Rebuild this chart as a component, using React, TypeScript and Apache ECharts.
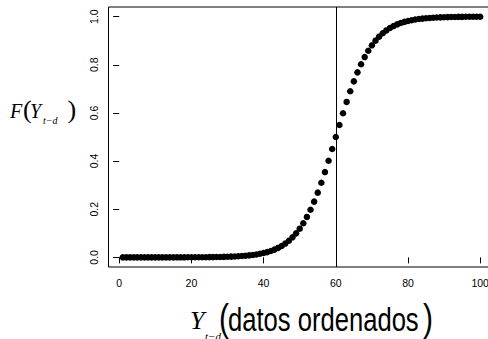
import React, { useEffect, useRef } from "react";
import * as echarts from "echarts";

const fValues = [
  0.0000, 0.0000, 0.0000, 0.0000, 0.0000, 0.0000, 0.0000, 0.0000, 0.0000, 0.0000,
  0.0001, 0.0001, 0.0001, 0.0001, 0.0001, 0.0002, 0.0002, 0.0002, 0.0003, 0.0003,
  0.0004, 0.0005, 0.0006, 0.0007, 0.0009, 0.0011, 0.0014, 0.0017, 0.0020, 0.0025,
  0.0030, 0.0037, 0.0045, 0.0055, 0.0067, 0.0082, 0.0100, 0.0121, 0.0148, 0.0180,
  0.0219, 0.0266, 0.0323, 0.0392, 0.0474, 0.0573, 0.0691, 0.0832, 0.0998, 0.1192,
  0.1419, 0.1680, 0.1978, 0.2315, 0.2689, 0.3100, 0.3543, 0.4013, 0.4502, 0.5000,
  0.5498, 0.5987, 0.6457, 0.6900, 0.7311, 0.7685, 0.8022, 0.8320, 0.8581, 0.8808,
  0.9002, 0.9168, 0.9309, 0.9427, 0.9526, 0.9608, 0.9677, 0.9734, 0.9781, 0.9820,
  0.9852, 0.9879, 0.9900, 0.9918, 0.9933, 0.9945, 0.9955, 0.9963, 0.9970, 0.9975,
  0.9980, 0.9983, 0.9986, 0.9989, 0.9991, 0.9993, 0.9994, 0.9995, 0.9996, 0.9997,
];
const xTicks = [0, 20, 40, 60, 80, 100];
const yTicks = [0, 0.2, 0.4, 0.6, 0.8, 1.0];
const thresholdX = [60];

const SANS = "'Liberation Sans', Arial, sans-serif";
const SERIF = "'Liberation Serif', 'Times New Roman', serif";

export default function App() {
  const ref = useRef<HTMLDivElement>(null);
  useEffect(() => {
    if (!ref.current) return;
    const chart = echarts.init(ref.current, undefined, { renderer: "svg" });
    const points = fValues.map((v, i) => [i + 1, v]);
    const txt = (
      text: string,
      x: number,
      y: number,
      font: string,
      align: string = "left",
      scaleY: number = 1
    ) => ({
      type: "text",
      x,
      y,
      scaleY,
      silent: true,
      style: {
        text,
        font,
        fill: "#000",
        align,
        textAlign: align,
        verticalAlign: "middle",
        textVerticalAlign: "middle",
      },
    });
    chart.setOption({
      animation: false,
      backgroundColor: "#fff",
      grid: {
        left: 108.5,
        top: 7,
        width: 386,
        height: 260,
        containLabel: false,
        outerBoundsMode: "none",
        show: true,
        borderColor: "#000",
        borderWidth: 1,
        backgroundColor: "transparent",
      },
      xAxis: {
        type: "value",
        min: -2.96,
        max: 103.96,
        axisLine: { show: false },
        splitLine: { show: false },
        axisTick: {
          show: true,
          length: 6,
          lineStyle: { color: "#000", width: 1 },
          customValues: xTicks,
        },
        axisLabel: {
          customValues: xTicks,
          margin: 10,
          fontFamily: SANS,
          fontSize: 10.5,
          color: "#000",
          formatter: (v: number) => String(v),
        },
      },
      yAxis: {
        type: "value",
        min: -0.04,
        max: 1.04,
        axisLine: { show: false },
        splitLine: { show: false },
        axisTick: {
          show: true,
          length: 6,
          lineStyle: { color: "#000", width: 1 },
          customValues: yTicks,
        },
        axisLabel: {
          customValues: yTicks,
          rotate: 90,
          margin: 9,
          fontFamily: SANS,
          fontSize: 10.5,
          color: "#000",
          formatter: (v: number) => v.toFixed(1),
        },
      },
      series: [
        {
          type: "scatter",
          data: points,
          symbol: "circle",
          symbolSize: 6.5,
          itemStyle: { color: "#000", opacity: 1 },
          silent: true,
          markLine: {
            silent: true,
            symbol: ["none", "none"],
            label: { show: false },
            lineStyle: { color: "#000", width: 1, type: "solid", opacity: 1 },
            emphasis: { disabled: true },
            data: thresholdX.map((x) => ({ xAxis: x })),
          },
        },
      ],
      graphic: [
        // y-axis title F(Y_{t-d})
        txt("F", 10, 110.9, `italic 20px ${SERIF}`),
        txt("(", 23, 109.9, `26px ${SERIF}`),
        txt("Y", 30, 110.5, `italic 20px ${SERIF}`),
        txt("t\u2212d", 43, 120.6, `italic 10px ${SERIF}`),
        txt(")", 67.5, 109.9, `26px ${SERIF}`),
        // x-axis title Y_{t-d}(datos ordenados)
        txt("Y", 190, 320.5, `italic 26px ${SERIF}`),
        txt("t\u2212d", 205, 336, `italic 11px ${SERIF}`),
        txt("(", 219, 317.5, `30px ${SANS}`, "left", 1.27),
        txt("datos ordenados", 228, 319.4, `25.6px ${SANS}`, "left", 1.27),
        txt(")", 433, 317.5, `30px ${SANS}`, "right", 1.27),
      ],
    });
    return () => chart.dispose();
  }, []);
  return (
    <div
      ref={ref}
      style={{ position: "fixed", left: 0, top: 0, width: 488, height: 339 }}
    />
  );
}
